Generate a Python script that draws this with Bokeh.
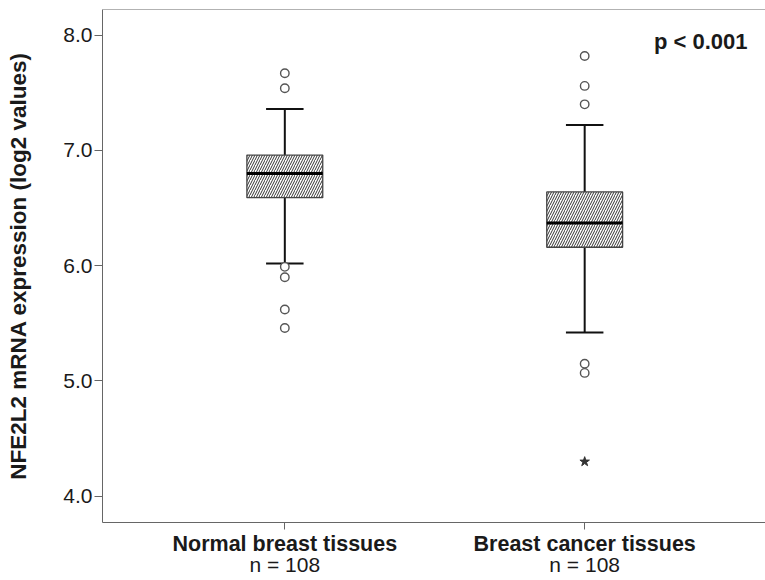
from bokeh.plotting import figure
from bokeh.models import (Range1d, Span, Label, FixedTicker, NumeralTickFormatter,
                          ColumnDataSource, LinearAxis)
from bokeh.embed import file_html
from bokeh.resources import INLINE

# ---- data ----
categories = ["Normal breast tissues", "Breast cancer tissues"]
sample_sizes = [108, 108]
positions = [1, 2]
q1 = [6.59, 6.16]
medians = [6.80, 6.37]
q3 = [6.96, 6.64]
whisker_low = [6.02, 5.42]
whisker_high = [7.36, 7.22]
outliers_normal = [7.67, 7.54, 5.99, 5.90, 5.62, 5.46]
outliers_cancer = [7.82, 7.56, 7.40, 5.15, 5.07]
extremes_cancer = [4.30]
y_ticks = [4.0, 5.0, 6.0, 7.0, 8.0]
y_label = "NFE2L2 mRNA expression (log2 values)"
p_text = "p < 0.001"

FONT = "Liberation Sans"
TXT = "#1a1a1a"
FRAME = "#666666"

y_lo, y_hi = 3.772, 8.223
x_lo, x_hi = 0.392, 2.603

p = figure(width=765, height=580, x_range=Range1d(x_lo, x_hi), y_range=Range1d(y_lo, y_hi),
           output_backend="svg", toolbar_location=None,
           min_border_left=102, min_border_right=0, min_border_top=9, min_border_bottom=58)
p.outline_line_color = None
p.grid.visible = False
p.background_fill_color = "white"
p.border_fill_color = "white"

# x axis: category names
p.xaxis.ticker = FixedTicker(ticks=positions)
p.xaxis.major_label_overrides = {pos: cat for pos, cat in zip(positions, categories)}
p.xaxis.major_tick_out = 7
p.xaxis.major_tick_in = 0
p.xaxis.minor_tick_line_color = None
p.xaxis.axis_line_color = FRAME
p.xaxis.major_tick_line_color = FRAME
p.xaxis.major_label_text_font = FONT
p.xaxis.major_label_text_font_size = "21.5px"
p.xaxis.major_label_text_font_style = "bold"
p.xaxis.major_label_text_color = TXT
p.xaxis.major_label_standoff = 2

# second x axis: sample sizes
n_axis = LinearAxis(ticker=FixedTicker(ticks=positions),
                    major_label_overrides={pos: f"n = {n}" for pos, n in zip(positions, sample_sizes)},
                    axis_line_color=None, major_tick_line_color=None, minor_tick_line_color=None,
                    major_tick_out=0, major_tick_in=0, major_label_standoff=-6,
                    major_label_text_font=FONT, major_label_text_font_size="21px",
                    major_label_text_color=TXT)
p.add_layout(n_axis, "below")

# y axis
p.yaxis.ticker = FixedTicker(ticks=y_ticks)
p.yaxis.formatter = NumeralTickFormatter(format="0.0")
p.yaxis.major_tick_out = 8
p.yaxis.major_tick_in = 0
p.yaxis.minor_tick_line_color = None
p.yaxis.axis_line_color = FRAME
p.yaxis.major_tick_line_color = FRAME
p.yaxis.major_label_text_font = FONT
p.yaxis.major_label_text_font_size = "21px"
p.yaxis.major_label_text_color = TXT
p.yaxis.major_label_standoff = 2
p.yaxis.axis_label = y_label
p.yaxis.axis_label_text_font = FONT
p.yaxis.axis_label_text_font_size = "22.5px"
p.yaxis.axis_label_text_font_style = "bold"
p.yaxis.axis_label_text_color = TXT
p.yaxis.axis_label_standoff = 29

p.add_layout(Span(location=y_hi, dimension="width", line_color=FRAME, line_width=1))

# boxes
box_w = 0.253
cap_w = 0.125
src = ColumnDataSource(dict(x=positions, q1=q1, q3=q3, med=medians, lo=whisker_low, hi=whisker_high,
                            left=[x - box_w / 2 for x in positions], right=[x + box_w / 2 for x in positions],
                            cl=[x - cap_w / 2 for x in positions], cr=[x + cap_w / 2 for x in positions]))

p.segment(x0="x", x1="x", y0="q3", y1="hi", source=src, line_color="#111111", line_width=2)
p.segment(x0="x", x1="x", y0="q1", y1="lo", source=src, line_color="#111111", line_width=2)
p.segment(x0="cl", x1="cr", y0="hi", y1="hi", source=src, line_color="#111111", line_width=2)
p.segment(x0="cl", x1="cr", y0="lo", y1="lo", source=src, line_color="#111111", line_width=2)
p.vbar(x="x", width=box_w, bottom="q1", top="q3", source=src, fill_color="white",
       line_color="#444444", line_width=1.3, hatch_pattern="/", hatch_color="#333333",
       hatch_scale=5, hatch_weight=1.0)
p.segment(x0="left", x1="right", y0="med", y1="med", source=src, line_color="#000000", line_width=3)

# outliers
ox = [positions[0]] * len(outliers_normal) + [positions[1]] * len(outliers_cancer)
oy = outliers_normal + outliers_cancer
p.scatter(x=ox, y=oy, marker="circle", size=8.5, fill_color="white", line_color="#555555", line_width=1.4)
p.scatter(x=[positions[1]] * len(extremes_cancer), y=extremes_cancer, marker="star", size=10,
          fill_color="#333333", line_color="#333333")

# p-value
p.add_layout(Label(x=x_hi - 18 / 300, y=y_hi - 32 / 115.25, text=p_text, text_align="right",
                   text_baseline="alphabetic", text_font=FONT, text_font_size="22px",
                   text_font_style="bold", text_color=TXT))

open("out.html", "w").write(file_html(p, INLINE))
